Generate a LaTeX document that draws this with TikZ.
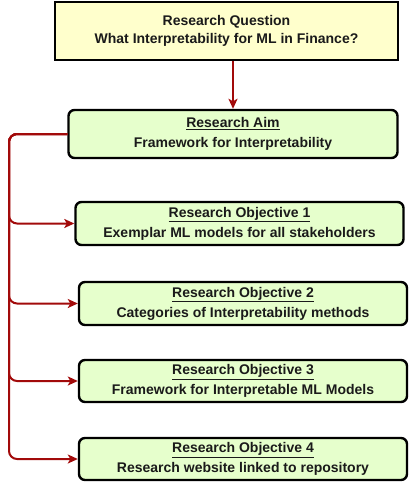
\documentclass[tikz,border=0pt]{standalone}
\usepackage{fontspec}
\setmainfont{Liberation Sans}
\usetikzlibrary{arrows.meta}
\definecolor{qfill}{HTML}{FFFFCC}
\definecolor{gfill}{HTML}{E6FFCC}
\definecolor{conncol}{HTML}{A20A0A}
\definecolor{txt}{HTML}{1A1A1A}
\tikzset{
  qbox/.style={draw=black, line width=2.6pt, fill=qfill, minimum width=343pt, minimum height=58pt, align=center, text=txt, font=\fontsize{14}{18}\selectfont\bfseries, inner sep=0pt},
  gbox/.style={draw=black, line width=2.4pt, fill=gfill, rounded corners=6pt, minimum width=328pt, align=center, text=txt, font=\fontsize{14}{20}\selectfont\bfseries, inner sep=0pt},
  conn/.style={draw=conncol, line width=2pt, -{Stealth[length=10pt,width=9pt,inset=2.5pt]}},
  branch/.style={conn, rounded corners=8pt}
}
\begin{document}
\begin{tikzpicture}[x=1pt,y=-1pt]
\useasboundingbox (0,0) rectangle (410,482);
\node[qbox] (q) at (226.5,31) {Research Question\\What Interpretability for ML in Finance?};
\node[gbox, minimum width=329pt, minimum height=48pt] (aim) at (233,134) {\underline{Research Aim}\\Framework for Interpretability};
\node[gbox, minimum height=43pt] (o1) at (239.5,223.5) {\underline{Research Objective 1}\\Exemplar ML models for all stakeholders};
\node[gbox, minimum height=43pt] (o2) at (243,303.5) {\underline{Research Objective 2}\\Categories of Interpretability methods};
\node[gbox, minimum height=42pt] (o3) at (243,381) {\underline{Research Objective 3}\\Framework for Interpretable ML Models};
\node[gbox, minimum height=42pt] (o4) at (243,459) {\underline{Research Objective 4}\\Research website linked to repository};
\coordinate (rail) at (9,0);
\draw[conn] (q.south -| aim.north) -- (aim.north);
\foreach \o in {o1,o2,o3,o4}{
  \draw[branch] (aim.west) -- (aim.west -| rail) -- (rail |- \o.west) -- (\o.west);
}
\end{tikzpicture}
\end{document}
